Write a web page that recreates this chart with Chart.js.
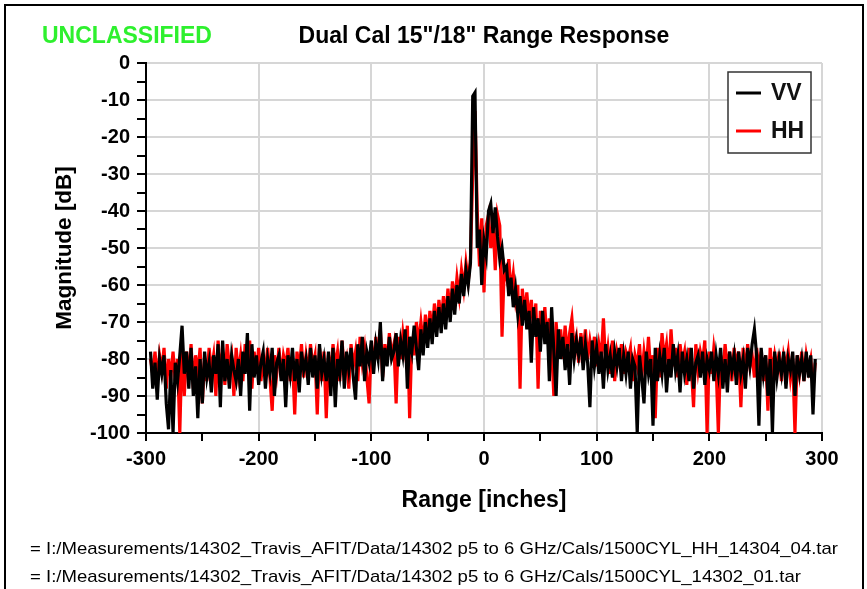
<!DOCTYPE html>
<html>
<head>
<meta charset="utf-8">
<title>Dual Cal 15"/18" Range Response</title>
<script src="https://cdn.jsdelivr.net/npm/chart.js@4.4.1/dist/chart.umd.min.js"></script>
<style>
  html, body { margin: 0; padding: 0; background: #fff; }
  canvas { display: block; }
</style>
</head>
<body>
<canvas id="chart" width="867" height="589"></canvas>
<script>
// range samples: every 2 inches from -296 to 294
const rangeStart = -296;
const rangeStep = 2;

// VV magnitude [dB], 10 samples per row
const vvValues = [
  -78, -88, -81, -91, -80, -84, -79, -92, -99, -83,   // -296
  -100, -81, -86, -79, -71, -84, -78, -88, -77, -90,  // -276
  -82, -96, -80, -92, -78, -85, -81, -89, -79, -84,   // -256
  -76, -93, -75, -86, -80, -88, -79, -83, -86, -80,   // -236
  -90, -78, -84, -73, -94, -76, -85, -79, -87, -81,   // -216
  -78, -88, -80, -84, -77, -90, -81, -79, -86, -80,   // -196
  -93, -79, -84, -77, -86, -80, -89, -78, -83, -80,   // -176
  -87, -77, -85, -79, -88, -76, -84, -80, -86, -78,   // -156
  -90, -77, -93, -80, -84, -75, -88, -78, -83, -77,   // -136
  -85, -91, -76, -82, -74, -86, -78, -81, -75, -84,   // -116
  -76, -80, -70, -86, -77, -82, -74, -80, -78, -73,   // -96
  -82, -75, -79, -72, -88, -74, -78, -71, -77, -83,   // -76
  -72, -79, -70, -77, -69, -76, -67, -74, -66, -73,   // -56
  -65, -72, -63, -70, -61, -68, -60, -65, -57, -63,   // -36
  -56, -60, -54, -9, -8, -50, -45, -60, -48, -52,     // -16
  -40, -38, -46, -39, -47, -53, -50, -56, -55, -63,   // 4
  -58, -66, -61, -68, -63, -71, -64, -72, -67, -81,   // 24
  -66, -74, -69, -78, -67, -76, -70, -86, -66, -78,   // 44
  -90, -72, -80, -74, -83, -76, -87, -73, -80, -75,   // 64
  -79, -74, -83, -76, -81, -93, -75, -82, -77, -84,   // 84
  -78, -88, -76, -83, -79, -85, -78, -82, -77, -86,   // 104
  -79, -84, -78, -88, -80, -82, -100, -79, -85, -92,  // 124
  -78, -84, -80, -98, -77, -86, -79, -84, -77, -89,   // 144
  -80, -85, -76, -83, -79, -89, -78, -84, -80, -86,   // 164
  -77, -88, -81, -79, -85, -78, -87, -80, -83, -78,   // 184
  -86, -79, -84, -77, -88, -80, -89, -78, -83, -79,   // 204
  -87, -78, -84, -80, -88, -77, -82, -76, -72, -79,   // 224
  -98, -77, -84, -79, -90, -80, -100, -78, -85, -80,  // 244
  -84, -78, -88, -80, -83, -78, -90, -79, -84, -80,   // 264
  -86, -78, -85, -79, -95, -80                        // 284
];

// HH magnitude [dB]
const hhValues = [
  -80, -84, -78, -86, -79, -83, -77, -88, -80, -85,   // -296
  -78, -86, -80, -100, -76, -90, -78, -85, -76, -88,  // -276
  -79, -84, -77, -92, -80, -86, -77, -83, -79, -90,   // -256
  -75, -84, -78, -87, -76, -82, -79, -90, -77, -84,   // -236
  -79, -86, -76, -83, -75, -88, -78, -84, -77, -86,   // -216
  -80, -83, -77, -85, -94, -79, -84, -77, -85, -79,   // -196
  -82, -77, -86, -80, -95, -78, -83, -76, -85, -79,   // -176
  -84, -76, -82, -79, -95, -77, -86, -78, -96, -79,   // -156
  -84, -76, -82, -78, -86, -75, -83, -80, -88, -76,   // -136
  -82, -78, -86, -74, -81, -77, -85, -92, -76, -82,   // -116
  -74, -80, -72, -85, -76, -81, -73, -79, -76, -92,   // -96
  -74, -80, -73, -78, -71, -96, -74, -79, -70, -76,   // -76
  -70, -76, -68, -75, -67, -73, -65, -72, -64, -70,   // -56
  -63, -69, -61, -68, -59, -65, -58, -63, -56, -61,   // -36
  -54, -59, -53, -30, -13, -40, -55, -42, -62, -44,   // -16
  -41, -50, -43, -56, -41, -44, -74, -55, -58, -53,   // 4
  -62, -57, -64, -60, -88, -61, -68, -62, -70, -64,   // 24
  -72, -65, -88, -67, -73, -66, -75, -69, -77, -90,   // 44
  -70, -78, -72, -80, -71, -79, -73, -69, -77, -74,   // 64
  -81, -73, -78, -72, -80, -75, -79, -74, -82, -76,   // 84
  -80, -69, -82, -77, -84, -75, -86, -78, -81, -76,   // 104
  -84, -78, -80, -77, -86, -79, -82, -76, -85, -78,   // 124
  -83, -74, -84, -79, -96, -77, -85, -73, -80, -76,   // 144
  -84, -72, -82, -77, -85, -76, -81, -78, -87, -77,   // 164
  -82, -93, -76, -83, -78, -81, -75, -100, -78, -84,  // 184
  -77, -82, -100, -79, -84, -76, -83, -78, -86, -77,  // 204
  -82, -78, -93, -77, -84, -76, -82, -79, -85, -77,   // 224
  -83, -78, -86, -79, -94, -77, -84, -79, -83, -78,   // 244
  -86, -79, -82, -78, -85, -80, -100, -79, -84, -78,  // 264
  -86, -79, -83, -80, -88, -81                        // 284
];

const xTicks = [-300, -200, -100, 0, 100, 200, 300];
const yTicks = [0, -10, -20, -30, -40, -50, -60, -70, -80, -90, -100];

const seriesNames = ['VV', 'HH'];
const seriesColors = ['#000000', '#ff0000'];
const chartTitle = 'Dual Cal 15"/18" Range Response';
const markingText = 'UNCLASSIFIED';
const sourceFiles = [
  '= I:/Measurements/14302_Travis_AFIT/Data/14302 p5 to 6 GHz/Cals/1500CYL_HH_14304_04.tar',
  '= I:/Measurements/14302_Travis_AFIT/Data/14302 p5 to 6 GHz/Cals/1500CYL_14302_01.tar'
];

const FONT = '"Liberation Sans", Arial, sans-serif';

const toPoints = (values) => values.map((v, i) => ({ x: rangeStart + i * rangeStep, y: v }));

// frame, title, marking, legend box and file list
const decorPlugin = {
  id: 'decor',
  afterDraw(chart) {
    const ctx = chart.ctx;
    const area = chart.chartArea;
    ctx.save();

    // outer frame
    ctx.strokeStyle = '#000';
    ctx.lineWidth = 2;
    ctx.strokeRect(5, 5, 858, 620);

    // title + marking
    ctx.textBaseline = 'middle';
    ctx.font = 'bold 23px ' + FONT;
    ctx.fillStyle = '#000';
    ctx.textAlign = 'center';
    ctx.fillText(chartTitle, (area.left + area.right) / 2, 37);
    ctx.textAlign = 'left';
    ctx.fillStyle = '#2ef02e';
    ctx.fillText(markingText, 42, 37);

    // legend
    const lx = area.right - 94, ly = area.top + 9;
    ctx.fillStyle = '#fff';
    ctx.fillRect(lx, ly, 83, 81);
    ctx.strokeStyle = '#333';
    ctx.lineWidth = 1.5;
    ctx.strokeRect(lx, ly, 83, 81);
    seriesNames.forEach((name, i) => {
      const y = ly + 21 + i * 38;
      ctx.strokeStyle = seriesColors[i];
      ctx.lineWidth = 3;
      ctx.beginPath();
      ctx.moveTo(lx + 8, y);
      ctx.lineTo(lx + 33, y);
      ctx.stroke();
      ctx.fillStyle = '#111';
      ctx.font = 'bold 23px ' + FONT;
      ctx.textAlign = 'left';
      ctx.fillText(name, lx + 43, y + 1);
    });

    // source files, squeezed to the frame width
    ctx.font = '17px ' + FONT;
    ctx.fillStyle = '#000';
    const w = ctx.measureText(sourceFiles[0]).width;
    const sx = 808 / w;
    sourceFiles.forEach((line, i) => {
      ctx.save();
      ctx.translate(30, 549 + i * 28);
      ctx.scale(sx, 1);
      ctx.fillText(line, 0, 0);
      ctx.restore();
    });

    ctx.restore();
  }
};

const tickFont = { family: FONT, size: 20, weight: 'bold' };
const gridColor = '#d6d6d6';

new Chart(document.getElementById('chart').getContext('2d'), {
  type: 'line',
  data: {
    datasets: [
      { label: seriesNames[0], data: toPoints(vvValues), borderColor: seriesColors[0], borderWidth: 3.2, pointRadius: 0, tension: 0 },
      { label: seriesNames[1], data: toPoints(hhValues), borderColor: seriesColors[1], borderWidth: 3.2, pointRadius: 0, tension: 0 }
    ]
  },
  options: {
    responsive: false,
    animation: false,
    layout: { padding: { top: 63, right: 45, bottom: 0, left: 0 } },
    plugins: {
      legend: { display: false },
      title: { display: false },
      tooltip: { enabled: false }
    },
    scales: {
      x: {
        type: 'linear',
        min: -300,
        max: 300,
        afterBuildTicks: (s) => { s.ticks = [-300, -250, -200, -150, -100, -50, 0, 50, 100, 150, 200, 250, 300].map(v => ({ value: v })); },
        ticks: {
          autoSkip: false,
          maxRotation: 0,
          color: '#000',
          font: tickFont,
          padding: 6,
          callback: (v) => xTicks.includes(v) ? String(v) : ''
        },
        grid: {
          color: (c) => (c.tick && xTicks.includes(c.tick.value)) ? gridColor : 'rgba(0,0,0,0)',
          lineWidth: 2,
          tickColor: '#000',
          tickLength: 8
        },
        border: { color: '#000', width: 2 },
        title: {
          display: true,
          text: 'Range [inches]',
          color: '#000',
          font: { family: FONT, size: 23, weight: 'bold' },
          padding: { top: 0, bottom: 75 }
        },
        afterFit: (s) => { s.height = 156; }
      },
      y: {
        min: -100,
        max: 0,
        afterBuildTicks: (s) => {
          const t = [];
          for (let i = 0; i < yTicks.length - 1; i++) { t.push({ value: yTicks[i] }, { value: yTicks[i] - 5 }); }
          t.push({ value: yTicks[yTicks.length - 1] });
          s.ticks = t;
        },
        ticks: {
          autoSkip: false,
          color: '#000',
          font: tickFont,
          padding: 7,
          callback: (v) => yTicks.includes(v) ? String(v) : ''
        },
        grid: {
          color: (c) => (c.tick && yTicks.includes(c.tick.value)) ? gridColor : 'rgba(0,0,0,0)',
          lineWidth: 2,
          tickColor: '#000',
          tickLength: 9
        },
        border: { color: '#000', width: 2 },
        title: {
          display: true,
          text: 'Magnitude [dB]',
          color: '#000',
          font: { family: FONT, size: 22.5, weight: 'bold' },
          padding: { top: 51, bottom: 0 }
        },
        afterFit: (s) => { s.width = 146; }
      }
    }
  },
  plugins: [decorPlugin]
});
</script>
</body>
</html>
